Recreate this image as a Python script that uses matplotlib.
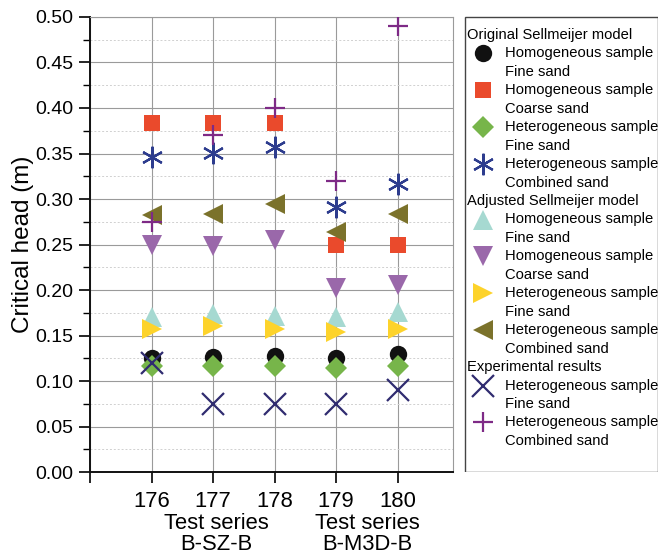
import matplotlib.pyplot as plt
from matplotlib.ticker import MultipleLocator
from matplotlib.patches import Rectangle

plt.rcParams['font.family'] = ['Liberation Sans', 'DejaVu Sans']

# data
tests = [176, 177, 178, 179, 180]

orig_homog_fine = [0.125, 0.126, 0.127, 0.125, 0.130]
orig_homog_coarse = [0.383, 0.384, 0.384, 0.250, 0.250]
orig_het_fine = [0.116, 0.117, 0.117, 0.114, 0.117]
orig_het_comb = [0.346, 0.351, 0.357, 0.291, 0.317]

adj_homog_fine = [0.170, 0.174, 0.171, 0.170, 0.176]
adj_homog_coarse = [0.250, 0.248, 0.255, 0.202, 0.205]
adj_het_fine = [0.157, 0.160, 0.157, 0.154, 0.157]
adj_het_comb = [0.282, 0.284, 0.295, 0.264, 0.284]

exp_het_fine = [0.120, 0.075, 0.075, 0.075, 0.090]
exp_het_comb = [0.275, 0.370, 0.400, 0.320, 0.490]

# (values, marker, size, color, label line 1, label line 2)
groups = [
    ("Original Sellmeijer model", [
        (orig_homog_fine, 'o', 12.5, '#111111', "Homogeneous sample", "Fine sand"),
        (orig_homog_coarse, 's', 11.5, '#ea4a2c', "Homogeneous sample", "Coarse sand"),
        (orig_het_fine, 'D', 11.5, '#77b54a', "Heterogeneous sample", "Fine sand"),
        (orig_het_comb, (6, 2, 0), 15.5, '#2d3c8e', "Heterogeneous sample", "Combined sand"),
    ]),
    ("Adjusted Sellmeijer model", [
        (adj_homog_fine, '^', 14.5, '#a6d9d1', "Homogeneous sample", "Fine sand"),
        (adj_homog_coarse, 'v', 15, '#9a68aa', "Homogeneous sample", "Coarse sand"),
        (adj_het_fine, '>', 14.5, '#fdd32b', "Heterogeneous sample", "Fine sand"),
        (adj_het_comb, '<', 15, '#7b722b', "Heterogeneous sample", "Combined sand"),
    ]),
    ("Experimental results", [
        (exp_het_fine, 'x', 15.5, '#302c70', "Heterogeneous sample", "Fine sand"),
        (exp_het_comb, '+', 14.5, '#7e2a86', "Heterogeneous sample", "Combined sand"),
    ]),
]

line_markers = ['x', '+', (6, 2, 0)]

fig = plt.figure(figsize=(6.6, 5.59), dpi=100)
ax = fig.add_axes([0.1364, 0.1556, 0.5500, 0.8140])

for header, series in groups:
    for vals, mk, ms, col, l1, l2 in series:
        if mk in line_markers:
            ax.plot(tests, vals, linestyle='none', marker=mk, markersize=ms,
                    color=col, markeredgewidth=1.6, zorder=3)
        else:
            ax.plot(tests, vals, linestyle='none', marker=mk, markersize=ms,
                    color=col, markeredgewidth=0, zorder=3)

ax.set_xlim(175, 180.9)
ax.set_ylim(0, 0.5)
ax.set_xticks([175, 176, 177, 178, 179, 180])
ax.set_xticklabels(['', '176', '177', '178', '179', '180'], fontsize=15.8)
ax.yaxis.set_major_locator(MultipleLocator(0.05))
ax.yaxis.set_minor_locator(MultipleLocator(0.025))
ax.set_yticklabels([f"{v:.2f}" for v in ax.get_yticks()], fontsize=14)
ax.tick_params(axis='both', which='major', direction='out', length=8, width=1.2, pad=4)
ax.tick_params(axis='y', which='minor', direction='out', length=5, width=1.0)
ax.tick_params(axis='x', pad=6)

ax.grid(True, which='major', color='#9a9a9a', linewidth=0.8, zorder=0)
ax.grid(True, which='minor', axis='y', color='#d0d0d0', linewidth=0.7,
        linestyle=(0, (2, 2)), zorder=0)
ax.set_axisbelow(True)
for s in ['left', 'bottom']:
    ax.spines[s].set_linewidth(1.4)
    ax.spines[s].set_color('#111111')
for s in ['top', 'right']:
    ax.spines[s].set_linewidth(0.8)
    ax.spines[s].set_color('#9a9a9a')

ax.set_ylabel('Critical head (m)', fontsize=17.5, labelpad=1)

ax.text(177.05, -0.0455, 'Test series\nB-SZ-B', ha='center', va='top',
        fontsize=15.8, linespacing=0.98)
ax.text(179.5, -0.0455, 'Test series\nB-M3D-B', ha='center', va='top',
        fontsize=15.8, linespacing=0.98)

# manual legend box
lax = fig.add_axes([464 / 660, 1 - 472 / 559, 194 / 660, 456 / 559])
lax.set_xlim(0, 194)
lax.set_ylim(456, 0)
lax.axis('off')
lax.add_patch(Rectangle((0.5, 0.5), 193, 455, fill=False, edgecolor='#444444',
                        linewidth=1.0))

row = 0
step = 18.45
y0 = 19
for header, series in groups:
    lax.text(3, y0 + row * step, header, fontsize=10.6, va='center', ha='left')
    row += 1
    for vals, mk, ms, col, l1, l2 in series:
        y = y0 + row * step
        if mk in line_markers:
            lax.plot([19], [y], marker=mk, markersize=ms, color=col,
                     markeredgewidth=1.6, linestyle='none')
        else:
            lax.plot([19], [y], marker=mk, markersize=ms, color=col,
                     markeredgewidth=0, linestyle='none')
        lax.text(41, y, l1, fontsize=10.6, va='center', ha='left')
        lax.text(41, y + step, l2, fontsize=10.6, va='center', ha='left')
        row += 2

fig.savefig('out.png', dpi=100)
